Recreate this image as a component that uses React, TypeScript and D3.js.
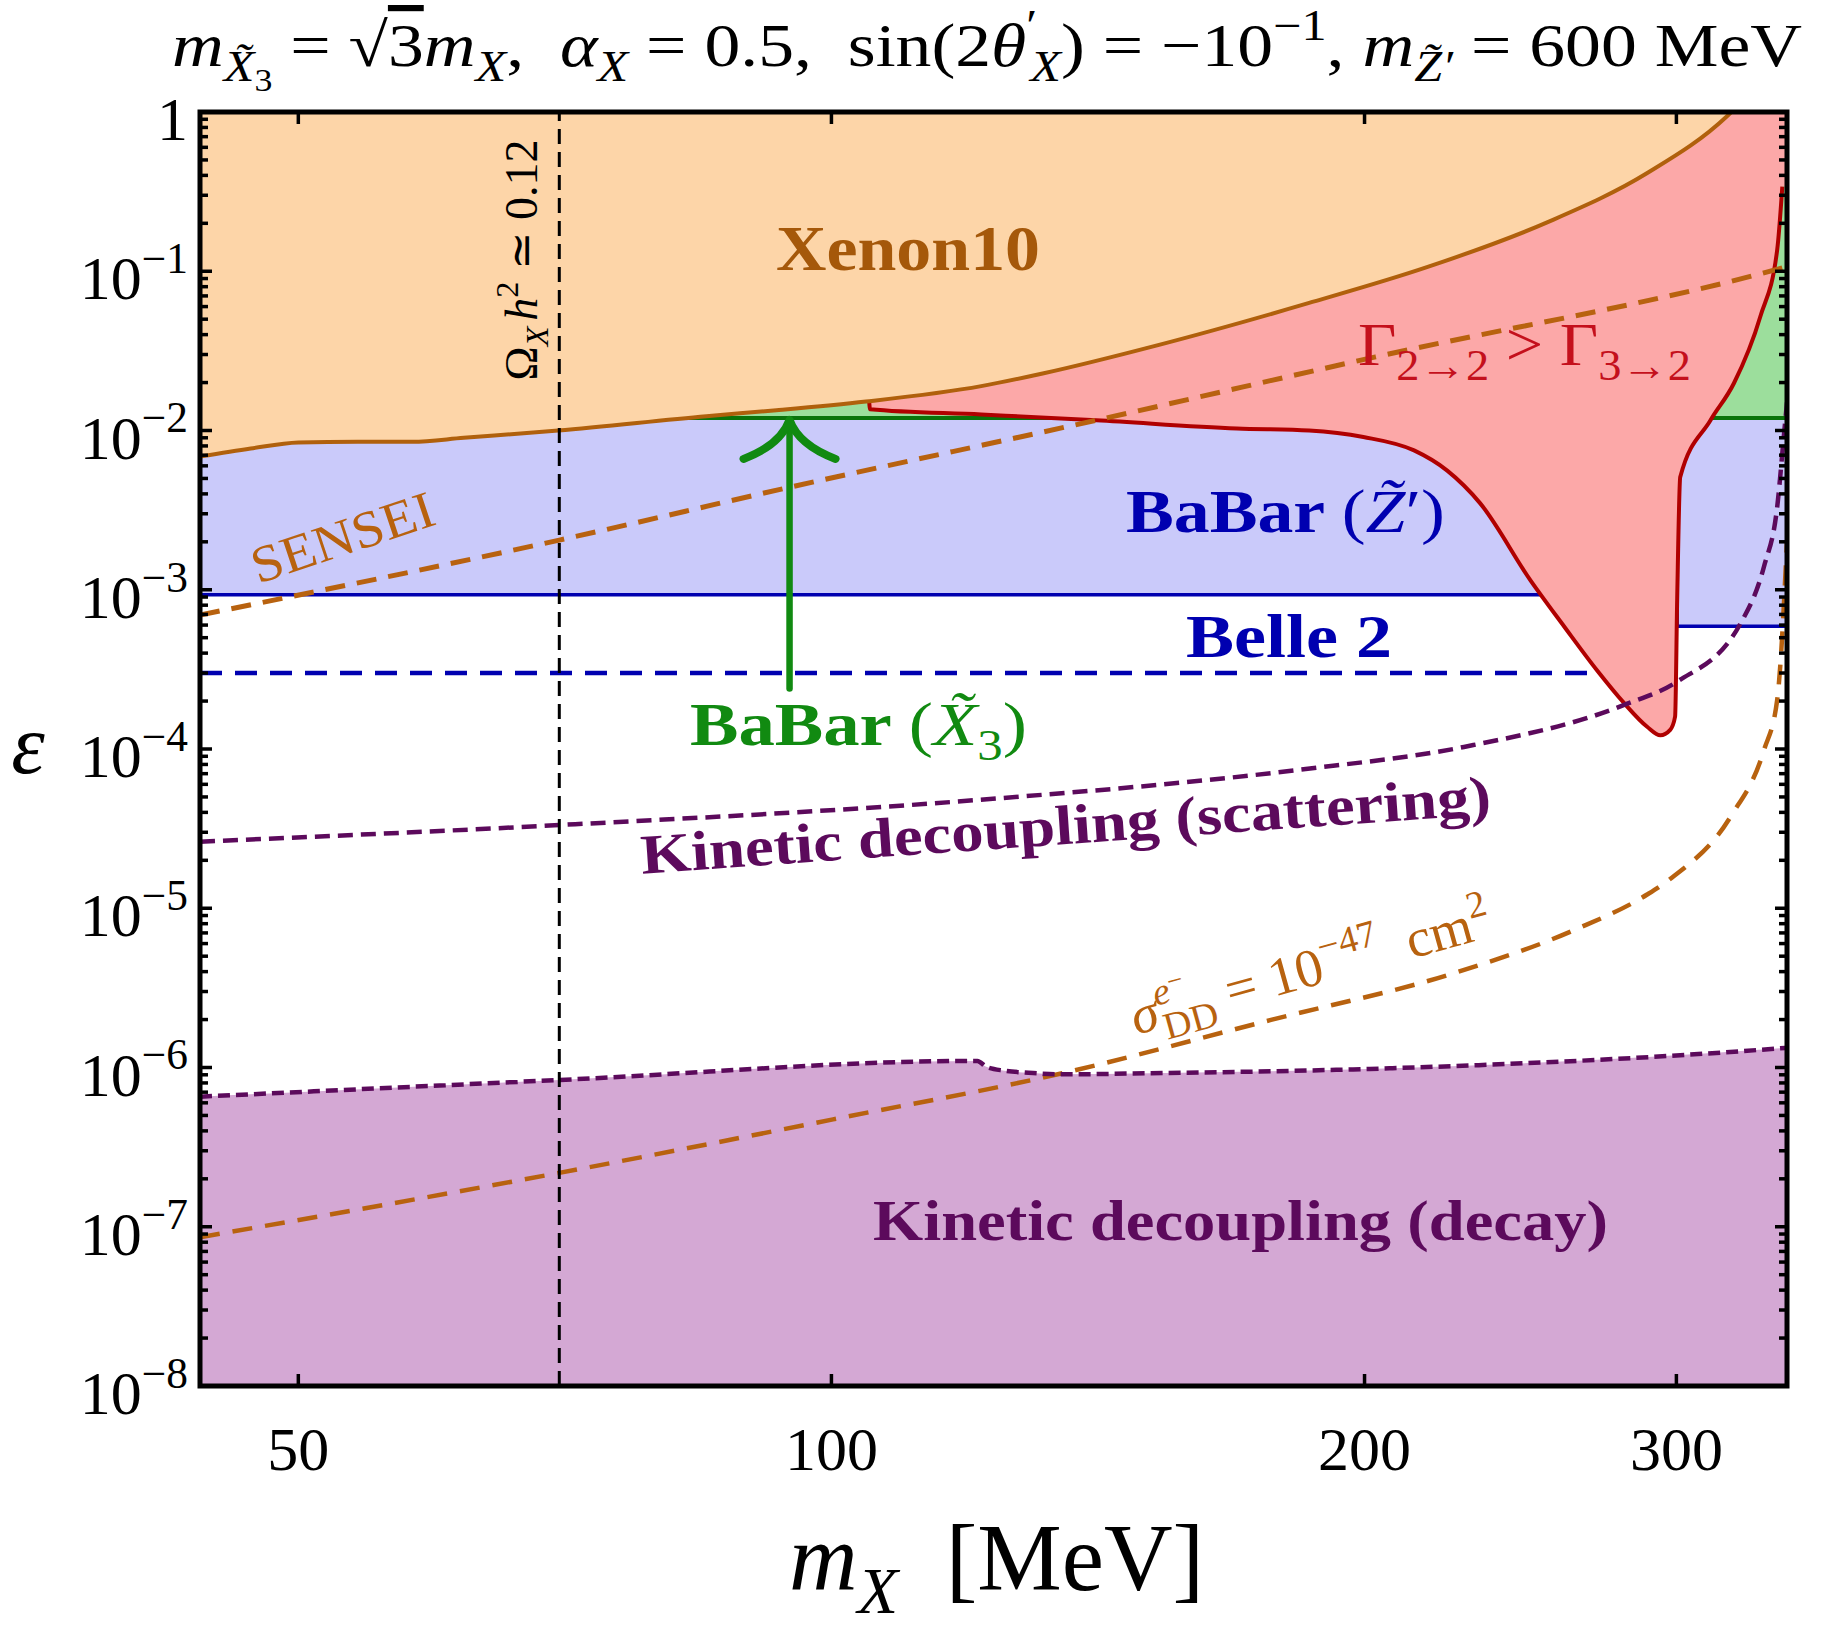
import { useEffect, useRef } from "react";
import * as d3 from "d3";

const WIDTH = 1823;
const HEIGHT = 1634;
const PLOT = { left: 200, right: 1787, top: 112, bottom: 1386 };

const MASS_DOMAIN = [44, 346.4];
const EPS_DOMAIN = [1e-8, 1];
const X_TICKS = [50, 100, 200, 300];
const Y_DECADES = [-8, -7, -6, -5, -4, -3, -2, -1, 0];

// Xenon10 exclusion boundary (excluded above)
const XENON_MASS = [44, 47, 50, 54, 58, 62, 70.1, 85, 93.1, 104.6, 121.5, 131.6, 153.1, 185.9, 216.9, 253.4, 288.7, 320.4, 324];
const XENON_EPS = [6.85e-3, 7.7e-3, 8.4e-3, 8.5e-3, 8.5e-3, 9.0e-3, 1.0e-2, 1.23e-2, 1.34e-2, 1.52e-2, 1.9e-2, 2.28e-2, 3.45e-2, 6.3e-2, 0.106, 0.202, 0.412, 0.94, 1.06];

// BaBar dark-photon limit (excluded above)
const BABAR_Z_MASS = [44, 300.3, 300.3, 346.4];
const BABAR_Z_EPS = [9.3e-4, 9.3e-4, 5.9e-4, 5.9e-4];

// Belle II projection
const BELLE2_MASS = [44, 268];
const BELLE2_EPS = [3.0e-4, 3.0e-4];

// BaBar limit on the X3 state
const BABAR_X3_MASS = [81, 346.4];
const BABAR_X3_EPS = [1.2e-2, 1.2e-2];
const ARROW_MASS = 94.7;
const ARROW_EPS = [2.4e-4, 1.2e-2];

// Region where 2->2 dominates over 3->2
const RED_MASS = [105.0, 105.15, 121.5, 141.1, 169.4, 186.1, 199.7, 213.3, 222.7, 232.4, 248.1, 259.2, 270.7, 280.3, 288.8, 293.8, 297.6, 299.5, 300.3, 301.5, 313.6, 323.3, 334.6, 342, 344.3];
const RED_EPS = [1.6e-2, 1.36e-2, 1.26e-2, 1.16e-2, 1.03e-2, 1.0e-2, 9.1e-3, 7.5e-3, 5.6e-3, 3.5e-3, 1.15e-3, 5.9e-4, 3.1e-4, 1.94e-4, 1.38e-4, 1.22e-4, 1.32e-4, 1.6e-4, 8.6e-4, 5.1e-3, 1.16e-2, 1.98e-2, 5.2e-2, 0.136, 0.34];

// SENSEI projection
const SENSEI_MASS = [44, 70.2, 94.7, 141.1, 202.9, 341, 346.4];
const SENSEI_EPS = [6.94e-4, 2.05e-3, 4.4e-3, 1.16e-2, 2.9e-2, 0.102, 0.107];

// Kinetic decoupling from scattering
const SCATTER_MASS = [44, 70.2, 120.8, 183.2, 227.6, 280.3, 300.3, 326.1, 336.2, 342, 345.1, 346.4];
const SCATTER_EPS = [2.62e-5, 3.33e-5, 4.78e-5, 7.38e-5, 1.03e-4, 1.89e-4, 2.65e-4, 6.15e-4, 1.4e-3, 3.3e-3, 9.6e-3, 1.5e-2];

// Kinetic decoupling from decays (excluded below)
const DECAY_MASS = [44, 70.2, 120.9, 122.3, 125.2, 129.2, 134.4, 151.3, 207.4, 343.4, 346.4];
const DECAY_EPS = [6.56e-7, 8.35e-7, 1.1e-6, 1.01e-6, 9.55e-7, 9.27e-7, 9.06e-7, 9.2e-7, 9.9e-7, 1.32e-6, 1.33e-6];

// Direct detection cross section contour
const SIGMA_MASS = [44, 70.2, 102, 134.4, 177.1, 224.4, 262.7, 288.8, 298.1, 321.9, 336.2, 342, 344.3, 345.1, 346.4];
const SIGMA_EPS = [8.59e-8, 2.18e-7, 4.91e-7, 9.1e-7, 1.99e-6, 3.9e-6, 7.3e-6, 1.22e-5, 1.55e-5, 3.76e-5, 9.86e-5, 2.03e-4, 5.3e-4, 8.6e-4, 2.0e-3];

// Relic abundance line
const OMEGA_MASS = 70.2;

const FONT = "'Liberation Serif', 'DejaVu Serif', serif";

const C = {
  xenonFill: "#fdd5a8",
  xenonLine: "#b0600c",
  xenonText: "#a5580a",
  blueFill: "#cacafa",
  blue: "#0000b0",
  greenFill: "#9cde9c",
  greenLine: "#0a740a",
  green: "#118a11",
  redFill: "#fca8a8",
  redLine: "#b00000",
  redText: "#c4101c",
  purpleFill: "#d4a8d4",
  purple: "#5c0a5c",
  orange: "#b8620f",
};

type Run = { t: string; it?: boolean; bold?: boolean; lvl?: number; dx?: number; over?: boolean };

function rich(text: any, runs: Run[], base: number) {
  let cur = 0;
  runs.forEach((r) => {
    const lvl = r.lvl ?? 0;
    let off = 0;
    let size = base;
    if (lvl === 1) { off = 0.24 * base; size = 0.7 * base; }
    if (lvl === 2) { off = 0.4 * base; size = 0.5 * base; }
    if (lvl === -1) { off = -0.42 * base; size = 0.7 * base; }
    if (lvl === -2) { off = -0.62 * base; size = 0.5 * base; }
    const ts = text.append("tspan").attr("dy", off - cur).attr("font-size", size).text(r.t);
    if (r.it) ts.attr("font-style", "italic");
    if (r.bold !== undefined) ts.attr("font-weight", r.bold ? "bold" : "normal");
    if (r.dx) ts.attr("dx", r.dx);
    if (r.over) ts.style("text-decoration", "overline");
    cur = off;
  });
  return text;
}

function zip(m: number[], e: number[]) {
  return m.map((v, i) => [v, e[i]]);
}

function ExclusionPlot() {
  const ref = useRef<SVGSVGElement>(null);

  useEffect(() => {
    const svg = d3.select(ref.current);
    svg.selectAll("*").remove();

    const x = d3.scaleLog().domain(MASS_DOMAIN).range([PLOT.left, PLOT.right]);
    const y = d3.scaleLog().domain(EPS_DOMAIN).range([PLOT.bottom, PLOT.top]);

    svg.append("rect").attr("width", WIDTH).attr("height", HEIGHT).attr("fill", "#fff");

    svg
      .append("clipPath")
      .attr("id", "plot-clip")
      .append("rect")
      .attr("x", PLOT.left)
      .attr("y", PLOT.top)
      .attr("width", PLOT.right - PLOT.left)
      .attr("height", PLOT.bottom - PLOT.top);

    const g = svg.append("g").attr("clip-path", "url(#plot-clip)");

    const smooth = d3
      .line<number[]>()
      .x((d) => x(d[0]))
      .y((d) => y(d[1]))
      .curve(d3.curveMonotoneX);
    const straight = d3
      .line<number[]>()
      .x((d) => x(d[0]))
      .y((d) => y(d[1]));
    const areaAbove = (curve: any) =>
      d3
        .area<number[]>()
        .x((d) => x(d[0]))
        .y0(y(EPS_DOMAIN[1]))
        .y1((d) => y(d[1]))
        .curve(curve);
    const areaBelow = (curve: any) =>
      d3
        .area<number[]>()
        .x((d) => x(d[0]))
        .y0(y(EPS_DOMAIN[0]))
        .y1((d) => y(d[1]))
        .curve(curve);

    const babarZ = zip(BABAR_Z_MASS, BABAR_Z_EPS);
    const belle = zip(BELLE2_MASS, BELLE2_EPS);
    const babarX = zip(BABAR_X3_MASS, BABAR_X3_EPS);
    const red = zip(RED_MASS, RED_EPS);
    const xenon = zip(XENON_MASS, XENON_EPS);
    const sensei = zip(SENSEI_MASS, SENSEI_EPS);
    const scatter = zip(SCATTER_MASS, SCATTER_EPS);
    const decay = zip(DECAY_MASS, DECAY_EPS);
    const sigma = zip(SIGMA_MASS, SIGMA_EPS);

    // filled regions
    g.append("path").attr("d", areaAbove(d3.curveLinear)(babarZ)).attr("fill", C.blueFill);
    g.append("path").attr("d", areaBelow(d3.curveMonotoneX)(decay)).attr("fill", C.purpleFill);
    g.append("path").attr("d", areaAbove(d3.curveLinear)(babarX)).attr("fill", C.greenFill);

    g.append("path")
      .attr("d", straight(babarZ))
      .attr("fill", "none")
      .attr("stroke", C.blue)
      .attr("stroke-width", 3.5);
    g.append("path")
      .attr("d", straight(belle))
      .attr("fill", "none")
      .attr("stroke", C.blue)
      .attr("stroke-width", 4.5)
      .attr("stroke-dasharray", "22 13");
    g.append("path")
      .attr("d", straight(babarX))
      .attr("fill", "none")
      .attr("stroke", C.greenLine)
      .attr("stroke-width", 4);

    // 2->2 vs 3->2 region, closed along the right edge and top
    const last = red[red.length - 1];
    const redOutline =
      smooth(red) +
      `L${x(MASS_DOMAIN[1])},${y(last[1])}` +
      `L${x(MASS_DOMAIN[1])},${y(EPS_DOMAIN[1])}` +
      `L${x(red[0][0])},${y(EPS_DOMAIN[1])}Z`;
    g.append("path").attr("d", redOutline).attr("fill", C.redFill);
    g.append("path")
      .attr("d", smooth(red))
      .attr("fill", "none")
      .attr("stroke", C.redLine)
      .attr("stroke-width", 4);

    g.append("path").attr("d", areaAbove(d3.curveMonotoneX)(xenon)).attr("fill", C.xenonFill);
    g.append("path")
      .attr("d", smooth(xenon))
      .attr("fill", "none")
      .attr("stroke", C.xenonLine)
      .attr("stroke-width", 4);

    // dashed contours
    g.append("path")
      .attr("d", smooth(sensei))
      .attr("fill", "none")
      .attr("stroke", C.orange)
      .attr("stroke-width", 5)
      .attr("stroke-dasharray", "20 12");
    g.append("path")
      .attr("d", smooth(sigma))
      .attr("fill", "none")
      .attr("stroke", C.orange)
      .attr("stroke-width", 4.5)
      .attr("stroke-dasharray", "20 13");
    g.append("path")
      .attr("d", smooth(decay))
      .attr("fill", "none")
      .attr("stroke", C.purple)
      .attr("stroke-width", 4.5)
      .attr("stroke-dasharray", "12 6");
    g.append("path")
      .attr("d", smooth(scatter))
      .attr("fill", "none")
      .attr("stroke", C.purple)
      .attr("stroke-width", 4.5)
      .attr("stroke-dasharray", "15 8");

    g.append("line")
      .attr("x1", x(OMEGA_MASS))
      .attr("x2", x(OMEGA_MASS))
      .attr("y1", y(EPS_DOMAIN[0]))
      .attr("y2", y(EPS_DOMAIN[1]))
      .attr("stroke", "#000")
      .attr("stroke-width", 3)
      .attr("stroke-dasharray", "15 8");

    // BaBar X3 arrow
    const ax = x(ARROW_MASS);
    const ay = y(ARROW_EPS[1]);
    g.append("line")
      .attr("x1", ax)
      .attr("x2", ax)
      .attr("y1", y(ARROW_EPS[0]))
      .attr("y2", ay + 3)
      .attr("stroke", C.green)
      .attr("stroke-width", 6.5)
      .attr("stroke-linecap", "round");
    g.append("path")
      .attr("d", `M${ax - 46},${ay + 41}Q${ax - 9},${ay + 27} ${ax},${ay + 2}Q${ax + 9},${ay + 27} ${ax + 46},${ay + 41}`)
      .attr("fill", "none")
      .attr("stroke", C.green)
      .attr("stroke-width", 8)
      .attr("stroke-linecap", "round")
      .attr("stroke-linejoin", "round");

    // labels
    const label = (px: number, py: number, size: number, color: string, anchor = "start", rot = 0) =>
      svg
        .append("text")
        .attr("transform", `translate(${px},${py}) rotate(${rot})`)
        .attr("font-family", FONT)
        .attr("font-size", size)
        .attr("fill", color)
        .attr("text-anchor", anchor)
        .style("white-space", "pre");
    const stretch = (t: any, len: number, mode = "spacingAndGlyphs") =>
      t.attr("textLength", len).attr("lengthAdjust", mode);

    stretch(label(776, 270, 64, C.xenonText).attr("font-weight", "bold").text("Xenon10"), 264);

    stretch(
      rich(label(1358, 365, 62, C.redText), [
        { t: "Γ" },
        { t: "2→2", lvl: 1 },
        { t: " > Γ" },
        { t: "3→2", lvl: 1 },
      ], 62),
      333
    );

    stretch(
      rich(label(1126, 532, 62, C.blue), [
        { t: "BaBar ", bold: true },
        { t: "(" },
        { t: "Z\u0303", it: true },
        { t: "′" },
        { t: ")" },
      ], 62),
      319
    );

    stretch(label(1186, 657, 62, C.blue).attr("font-weight", "bold").text("Belle 2"), 206);

    stretch(
      rich(label(690, 745, 62, C.green), [
        { t: "BaBar ", bold: true },
        { t: "(" },
        { t: "X\u0303", it: true },
        { t: "3", lvl: 1 },
        { t: ")" },
      ], 62),
      337
    );

    stretch(
      label(1067, 844, 56, C.purple, "middle", -4).attr("font-weight", "bold").text("Kinetic decoupling (scattering)"),
      852
    );

    stretch(label(873, 1240, 56, C.purple).attr("font-weight", "bold").text("Kinetic decoupling (decay)"), 735);

    stretch(label(258, 584, 52, C.orange, "start", -18.5).text("SENSEI"), 190);

    stretch(
      rich(label(1136, 1035, 54, C.orange, "start", -15.5), [
        { t: "σ", it: true },
        { t: "e", it: true, lvl: -1 },
        { t: "−", lvl: -2 },
        { t: "DD", lvl: 1, dx: -30 },
        { t: " = 10" },
        { t: "−47", lvl: -1 },
        { t: "  cm" },
        { t: "2", lvl: -1 },
      ], 54),
      372
    );

    rich(label(537, 260, 46, "#000", "middle", -90), [
      { t: "Ω" },
      { t: "X", it: true, lvl: 1 },
      { t: "h", it: true, dx: 6 },
      { t: "2", lvl: -1 },
      { t: " ≃ 0.12" },
    ], 46);

    // title
    stretch(
      rich(label(172, 66, 62, "#000"), [
        { t: "m", it: true },
        { t: "X\u0303", it: true, lvl: 1 },
        { t: "3", lvl: 2 },
        { t: " = √" },
        { t: "3", over: true },
        { t: "m", it: true },
        { t: "X", it: true, lvl: 1 },
        { t: ",  " },
        { t: "α", it: true },
        { t: "X", it: true, lvl: 1 },
        { t: " = 0.5,  sin(2" },
        { t: "θ", it: true },
        { t: "′", lvl: -1 },
        { t: "X", it: true, lvl: 1, dx: -6 },
        { t: ") = −10" },
        { t: "−1", lvl: -1 },
        { t: ", " },
        { t: "m", it: true },
        { t: "Z\u0303′", it: true, lvl: 1 },
        { t: " = 600 MeV" },
      ], 62),
      1630
    );

    // axis titles
    rich(label(789, 1590, 95, "#000"), [
      { t: "m", it: true },
      { t: "X", it: true, lvl: 1 },
      { t: "  [MeV]" },
    ], 95);

    label(28, 773, 85, "#000", "middle").attr("font-style", "italic").text("ε");

    // frame and ticks
    const axes = svg.append("g").attr("stroke", "#000").attr("stroke-width", 3.5);

    X_TICKS.forEach((t) => {
      const px = x(t);
      axes.append("line").attr("x1", px).attr("x2", px).attr("y1", PLOT.bottom).attr("y2", PLOT.bottom - 12);
      axes.append("line").attr("x1", px).attr("x2", px).attr("y1", PLOT.top).attr("y2", PLOT.top + 12);
      label(px, 1470, 62, "#000", "middle").text(String(t));
    });

    Y_DECADES.forEach((k) => {
      const py = y(Math.pow(10, k));
      axes.append("line").attr("x1", PLOT.left).attr("x2", PLOT.left + 12).attr("y1", py).attr("y2", py);
      axes.append("line").attr("x1", PLOT.right).attr("x2", PLOT.right - 12).attr("y1", py).attr("y2", py);
      if (k < 0) {
        for (let j = 2; j <= 9; j++) {
          const pm = y(j * Math.pow(10, k));
          axes.append("line").attr("x1", PLOT.left).attr("x2", PLOT.left + 8).attr("y1", pm).attr("y2", pm);
          axes.append("line").attr("x1", PLOT.right).attr("x2", PLOT.right - 8).attr("y1", pm).attr("y2", pm);
        }
        rich(label(188, py + 28, 62, "#000", "end"), [{ t: "10" }, { t: `−${-k}`, lvl: -1 }], 62);
      } else {
        label(188, py + 28, 62, "#000", "end").text("1");
      }
    });

    svg
      .append("rect")
      .attr("x", PLOT.left)
      .attr("y", PLOT.top)
      .attr("width", PLOT.right - PLOT.left)
      .attr("height", PLOT.bottom - PLOT.top)
      .attr("fill", "none")
      .attr("stroke", "#000")
      .attr("stroke-width", 5);
  }, []);

  return (
    <svg
      ref={ref}
      width={WIDTH}
      height={HEIGHT}
      style={{ position: "absolute", left: 0, top: 0, display: "block" }}
    />
  );
}

export default function App() {
  return <ExclusionPlot />;
}
